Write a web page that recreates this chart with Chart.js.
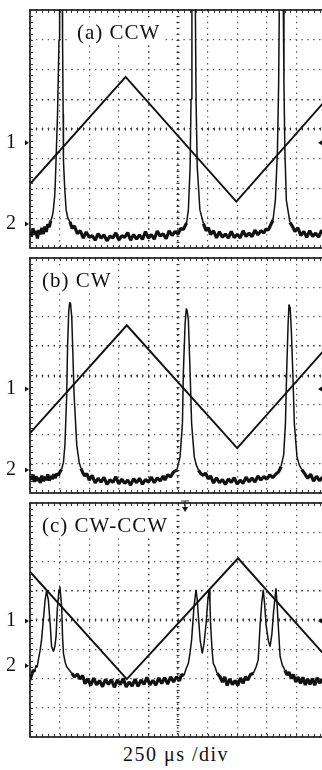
<!DOCTYPE html>
<html lang="en">
<head>
<meta charset="UTF-8" />
<title>Scope traces CCW / CW / CW-CCW</title>
<script src="https://cdn.jsdelivr.net/npm/chart.js"></script>
<style>
  html, body { margin: 0; padding: 0; background: #fff; overflow: hidden; }
  #wrap { position: relative; width: 322px; height: 770px; overflow: hidden; }
  #wrap canvas { position: absolute; left: 0; }
  #caption {
    position: absolute; top: 743px; left: 0; width: 352px; text-align: center;
    font-family: "Liberation Serif", "DejaVu Serif", serif; font-size: 20px;
    letter-spacing: 1.5px; color: #111;
  }
</style>
</head>
<body>
<div id="wrap">
  <canvas id="scopeA" width="330" height="250" style="top:0px"></canvas>
  <canvas id="scopeB" width="330" height="245" style="top:250px"></canvas>
  <canvas id="scopeC" width="330" height="245" style="top:495px"></canvas>
  <div id="caption">250 μs /div</div>
</div>

<script>
// x in divisions (0..10), y in divisions (0..8)
const titles = ["(a) CCW", "(b) CW", "(c) CW-CCW"];
const chanNames = ["1", "2"];

// channel ground markers (ch1, ch2) and trigger level per panel
const levelsA = [3.54, 0.81];
const levelsB = [3.54, 0.78];
const levelsC = [3.97, 2.44];
const trigLevels = [3.54, 3.54, 3.97];

// triangular PZT ramp (channel 1)
const rampA = [[0, 2.15], [3.23, 5.75], [6.97, 1.56], [10, 4.98]];
const rampB = [[0, 2.04], [3.27, 5.71], [7.0, 1.53], [10, 4.93]];
const rampC = [[0, 5.65], [3.27, 1.98], [7.03, 6.11], [10, 2.75]];

// resonance signal (channel 2)
const traceA = [
  [0.00,0.55],[0.05,0.40],[0.10,0.66],[0.15,0.45],[0.20,0.58],[0.25,0.32],[0.30,0.60],[0.35,0.46],
  [0.40,0.68],[0.45,0.47],[0.50,0.72],[0.55,0.54],[0.60,0.80],[0.65,0.70],[0.70,0.92],[0.75,1.05],
  [0.79,1.28],[0.83,1.70],[0.85,2.06],[0.88,2.96],[0.93,4.50],[0.98,7.00],[1.00,9.00],[1.09,9.00],
  [1.10,7.00],[1.12,4.50],[1.13,2.96],[1.17,2.06],[1.22,1.28],[1.28,1.00],[1.35,0.88],[1.42,0.66],
  [1.50,0.74],[1.60,0.48],[1.70,0.58],[1.80,0.33],[1.90,0.54],[2.00,0.36],[2.10,0.42],[2.20,0.26],
  [2.30,0.48],[2.40,0.33],[2.50,0.44],[2.60,0.24],[2.70,0.40],[2.80,0.34],[2.90,0.51],[3.00,0.27],
  [3.10,0.41],[3.20,0.36],[3.30,0.52],[3.40,0.26],[3.50,0.45],[3.60,0.30],[3.70,0.44],[3.80,0.29],
  [3.90,0.55],[4.00,0.33],[4.10,0.45],[4.20,0.30],[4.30,0.57],[4.40,0.40],[4.50,0.48],[4.60,0.31],
  [4.70,0.58],[4.80,0.42],[4.90,0.56],[5.00,0.47],[5.10,0.66],[5.18,0.62],[5.29,0.84],[5.35,1.28],
  [5.41,2.73],[5.44,5.00],[5.47,9.00],[5.58,9.00],[5.61,5.00],[5.65,2.73],[5.74,1.28],[5.86,0.82],
  [5.95,0.58],[6.03,0.68],[6.10,0.45],[6.20,0.58],[6.30,0.34],[6.40,0.55],[6.50,0.36],[6.60,0.47],
  [6.70,0.33],[6.80,0.56],[6.90,0.35],[7.00,0.46],[7.10,0.34],[7.20,0.58],[7.30,0.39],[7.40,0.50],
  [7.50,0.38],[7.60,0.60],[7.70,0.44],[7.80,0.58],[7.90,0.50],[7.97,0.64],[8.05,0.60],[8.21,0.94],
  [8.29,1.61],[8.36,3.29],[8.40,5.50],[8.43,9.00],[8.55,9.00],[8.58,5.50],[8.61,3.29],[8.66,1.61],
  [8.78,0.86],[8.88,0.70],[8.95,0.55],[9.05,0.68],[9.15,0.42],[9.25,0.56],[9.35,0.36],[9.45,0.58],
  [9.55,0.39],[9.65,0.50],[9.75,0.37],[9.85,0.59],[9.95,0.43],[10.0,0.50]
];

const traceB = [
  [0.00,0.62],[0.05,0.45],[0.10,0.63],[0.15,0.38],[0.20,0.57],[0.25,0.41],[0.30,0.52],[0.35,0.34],
  [0.40,0.59],[0.45,0.40],[0.50,0.55],[0.55,0.44],[0.60,0.63],[0.65,0.42],[0.70,0.58],[0.75,0.47],
  [0.80,0.64],[0.85,0.50],[0.90,0.66],[0.96,0.60],[1.02,0.74],[1.07,0.80],[1.13,1.05],[1.18,1.63],
  [1.24,3.33],[1.27,5.03],[1.31,6.20],[1.34,6.49],[1.37,6.45],[1.41,6.00],[1.44,5.03],[1.49,3.33],
  [1.58,1.63],[1.66,1.05],[1.72,0.84],[1.78,0.70],[1.85,0.58],[1.92,0.66],[2.00,0.44],[2.10,0.60],
  [2.20,0.34],[2.30,0.50],[2.40,0.37],[2.50,0.53],[2.60,0.29],[2.70,0.45],[2.80,0.36],[2.90,0.55],
  [3.00,0.31],[3.10,0.47],[3.20,0.33],[3.30,0.44],[3.40,0.27],[3.50,0.49],[3.60,0.35],[3.70,0.50],
  [3.80,0.30],[3.90,0.46],[4.00,0.37],[4.10,0.54],[4.20,0.35],[4.30,0.52],[4.40,0.41],[4.50,0.58],
  [4.56,0.44],[4.65,0.62],[4.75,0.55],[4.85,0.72],[4.96,0.78],[5.07,1.23],[5.15,2.37],[5.18,4.07],
  [5.24,5.77],[5.28,6.28],[5.31,6.20],[5.35,5.90],[5.41,4.07],[5.46,2.37],[5.55,1.23],[5.62,0.95],
  [5.69,0.78],[5.77,0.66],[5.85,0.60],[5.93,0.68],[6.02,0.48],[6.10,0.58],[6.20,0.34],[6.30,0.52],
  [6.40,0.35],[6.50,0.46],[6.60,0.29],[6.70,0.48],[6.80,0.36],[6.90,0.52],[7.00,0.30],[7.10,0.44],
  [7.20,0.33],[7.30,0.54],[7.40,0.38],[7.50,0.51],[7.60,0.37],[7.70,0.58],[7.80,0.44],[7.90,0.56],
  [8.00,0.47],[8.10,0.62],[8.20,0.52],[8.30,0.64],[8.40,0.72],[8.48,0.90],[8.57,1.30],[8.63,2.37],
  [8.67,4.07],[8.72,5.77],[8.75,6.42],[8.79,6.30],[8.83,5.50],[8.88,4.07],[8.93,2.37],[9.02,1.23],
  [9.10,0.95],[9.18,0.80],[9.28,0.66],[9.38,0.50],[9.48,0.64],[9.58,0.40],[9.68,0.57],[9.78,0.42],
  [9.88,0.53],[10.0,0.45]
];

const traceC = [
  [0.00,1.95],[0.05,2.10],[0.11,2.29],[0.16,2.22],[0.20,2.45],[0.24,2.38],[0.28,2.63],[0.34,2.95],
  [0.39,3.32],[0.45,4.00],[0.51,4.68],[0.56,5.00],[0.62,4.68],[0.68,3.89],[0.73,3.09],[0.79,2.92],
  [0.84,3.10],[0.88,3.43],[0.92,4.34],[0.98,5.03],[1.01,5.14],[1.07,4.45],[1.10,3.43],[1.13,2.86],
  [1.19,2.55],[1.24,2.40],[1.32,2.30],[1.41,2.18],[1.50,2.06],[1.60,2.15],[1.69,1.98],[1.78,2.10],
  [1.86,1.82],[1.95,2.00],[2.05,1.76],[2.15,2.01],[2.25,1.78],[2.35,1.93],[2.45,1.72],[2.55,1.97],
  [2.65,1.80],[2.75,1.96],[2.85,1.70],[2.95,1.95],[3.05,1.79],[3.15,2.00],[3.25,1.71],[3.35,1.88],
  [3.45,1.74],[3.55,1.98],[3.65,1.73],[3.75,1.95],[3.85,1.80],[3.95,2.04],[4.05,1.78],[4.15,1.94],
  [4.25,1.77],[4.35,2.02],[4.45,1.83],[4.55,2.03],[4.65,1.81],[4.75,2.06],[4.85,1.88],[4.95,2.06],
  [5.05,1.92],[5.12,2.14],[5.20,2.10],[5.28,2.35],[5.35,2.52],[5.41,2.90],[5.46,3.32],[5.54,4.45],
  [5.61,5.03],[5.65,4.70],[5.69,4.11],[5.75,3.30],[5.82,2.86],[5.88,3.20],[5.95,3.89],[6.01,4.70],
  [6.05,5.03],[6.08,4.60],[6.10,3.89],[6.15,3.00],[6.19,2.52],[6.25,2.40],[6.32,2.18],[6.42,2.06],
  [6.50,1.88],[6.58,2.05],[6.66,1.76],[6.75,1.99],[6.84,1.79],[6.93,1.93],[7.02,1.76],[7.11,2.02],
  [7.20,1.84],[7.28,2.06],[7.36,1.95],[7.45,2.14],[7.55,2.18],[7.64,2.40],[7.71,2.63],[7.77,3.77],
  [7.83,4.60],[7.88,5.03],[7.93,4.50],[7.98,3.80],[8.05,3.30],[8.11,3.09],[8.17,3.50],[8.23,4.30],
  [8.31,5.08],[8.35,4.50],[8.39,3.77],[8.45,2.75],[8.53,2.45],[8.61,2.29],[8.68,2.12],[8.75,2.22],
  [8.83,2.00],[8.90,2.14],[8.98,1.88],[9.06,2.05],[9.14,1.83],[9.22,2.04],[9.30,1.78],[9.38,1.99],
  [9.46,1.80],[9.54,2.00],[9.62,1.77],[9.70,2.03],[9.78,1.84],[9.86,1.97],[9.94,1.79],[10.0,1.95]
];

const serif = '"Liberation Serif", "DejaVu Serif", serif';

const scopeDecor = {
  id: "scopeDecor",
  beforeDatasetsDraw(chart, args, opts) {
    const { ctx, chartArea: a } = chart;
    ctx.save();
    ctx.font = "21px " + serif;
    if ("letterSpacing" in ctx) ctx.letterSpacing = "1px";
    const w = ctx.measureText(opts.title).width;
    const x = a.left + opts.titleDx;
    const y = a.top + 29;
    ctx.fillStyle = "#fff";
    ctx.fillRect(x - 8, y - 19, w + 12, 24);
    ctx.fillStyle = "#111";
    ctx.fillText(opts.title, x, y);
    ctx.restore();
  },
  afterDraw(chart, args, opts) {
    const { ctx, chartArea: a, scales } = chart;
    const xs = scales.x, ys = scales.y;
    ctx.save();
    // frame
    ctx.strokeStyle = "#111";
    ctx.lineWidth = 1.6;
    ctx.strokeRect(a.left, a.top, a.right - a.left, a.bottom - a.top);
    // minor ticks on frame and centre lines
    ctx.lineWidth = 1;
    ctx.strokeStyle = "#333";
    ctx.beginPath();
    const cy = Math.round(ys.getPixelForValue(4));
    const cx = Math.round(xs.getPixelForValue(5));
    for (let v = 0; v <= 10.001; v += 0.2) {
      const px = Math.round(xs.getPixelForValue(v)) + 0.5;
      ctx.moveTo(px, a.top); ctx.lineTo(px, a.top + 3);
      ctx.moveTo(px, a.bottom); ctx.lineTo(px, a.bottom - 3);
      ctx.moveTo(px, cy - 1.5); ctx.lineTo(px, cy + 1.5);
    }
    for (let v = 0; v <= 8.001; v += 0.2) {
      const py = Math.round(ys.getPixelForValue(v)) + 0.5;
      ctx.moveTo(a.left, py); ctx.lineTo(a.left + 3, py);
      ctx.moveTo(a.right, py); ctx.lineTo(a.right - 3, py);
      ctx.moveTo(cx - 1.5, py); ctx.lineTo(cx + 1.5, py);
    }
    ctx.stroke();
    // channel markers on the left
    ctx.fillStyle = "#111";
    ctx.font = "20px " + serif;
    ctx.textAlign = "right";
    ctx.textBaseline = "middle";
    opts.levels.forEach((lv, i) => {
      const py = ys.getPixelForValue(lv);
      ctx.fillText(chanNames[i], a.left - 14, py);
      ctx.beginPath();
      ctx.moveTo(a.left - 5, py - 2.5);
      ctx.lineTo(a.left - 1, py);
      ctx.lineTo(a.left - 5, py + 2.5);
      ctx.closePath();
      ctx.fill();
    });
    // trigger level marker on the right
    const ty = ys.getPixelForValue(opts.trig);
    ctx.beginPath();
    ctx.moveTo(a.right - 8, ty);
    ctx.lineTo(a.right, ty - 5);
    ctx.lineTo(a.right, ty + 5);
    ctx.closePath();
    ctx.fill();
    // trigger position arrow on top
    if (opts.trigX != null) {
      const tx = xs.getPixelForValue(opts.trigX);
      ctx.lineWidth = 1.2;
      ctx.beginPath();
      ctx.moveTo(tx - 4, a.top - 2); ctx.lineTo(tx + 4, a.top - 2);
      ctx.moveTo(tx, a.top - 2); ctx.lineTo(tx, a.top + 6);
      ctx.stroke();
      ctx.beginPath();
      ctx.moveTo(tx - 3, a.top + 4); ctx.lineTo(tx + 3, a.top + 4); ctx.lineTo(tx, a.top + 9);
      ctx.closePath();
      ctx.fill();
    }
    ctx.restore();
  }
};

function toPoints(pairs) {
  return pairs.map(p => ({ x: p[0], y: p[1] }));
}

function makeScope(id, trace, ramp, pad, noiseTop, decor) {
  const gridWidth = c => (c.tick && (c.tick.value === 5 || c.tick.value === 4)) ? 1.5 : 1.2;
  const gridColor = c => (c.tick && (c.tick.value === 5 || c.tick.value === 4)) ? "#222" : "#555";
  new Chart(document.getElementById(id), {
    type: "line",
    data: {
      datasets: [
        {
          data: toPoints(ramp),
          borderColor: "#111",
          borderWidth: 1.9,
          pointRadius: 0,
          clip: 0,
        },
        {
          data: toPoints(trace),
          borderColor: "#111",
          borderWidth: 1.5,
          pointRadius: 0,
          clip: 0,
          borderJoinStyle: "bevel",
          segment: {
            // noisy baseline drawn heavier than the resonance peaks
            borderWidth: s => (s.p0.parsed.y < noiseTop && s.p1.parsed.y < noiseTop) ? 3.2 : 1.5,
          },
        },
      ],
    },
    options: {
      responsive: false,
      animation: false,
      parsing: false,
      layout: { padding: pad },
      plugins: { legend: { display: false }, tooltip: { enabled: false }, scopeDecor: decor },
      scales: {
        x: {
          type: "linear", min: 0, max: 10,
          ticks: { display: false, stepSize: 1 },
          grid: { color: gridColor, lineWidth: gridWidth, drawTicks: false, borderDash: [1.4, 4.5] },
          border: { display: false, dash: [1.4, 4.5] },
        },
        y: {
          type: "linear", min: 0, max: 8,
          ticks: { display: false, stepSize: 1 },
          grid: { color: gridColor, lineWidth: gridWidth, drawTicks: false, borderDash: [1.4, 4.5] },
          border: { display: false, dash: [1.4, 4.5] },
        },
      },
    },
    plugins: [scopeDecor],
  });
}

makeScope("scopeA", traceA, rampA, { left: 30, top: 10, right: 4, bottom: 2 }, 0.95,
  { title: titles[0], titleDx: 47, levels: levelsA, trig: trigLevels[0] });
makeScope("scopeB", traceB, rampB, { left: 30, top: 8, right: 4, bottom: 2 }, 0.95,
  { title: titles[1], titleDx: 12, levels: levelsB, trig: trigLevels[1] });
makeScope("scopeC", traceC, rampC, { left: 30, top: 8, right: 4, bottom: 3 }, 2.3,
  { title: titles[2], titleDx: 12, levels: levelsC, trig: trigLevels[2], trigX: 5.24 });
</script>
</body>
</html>
